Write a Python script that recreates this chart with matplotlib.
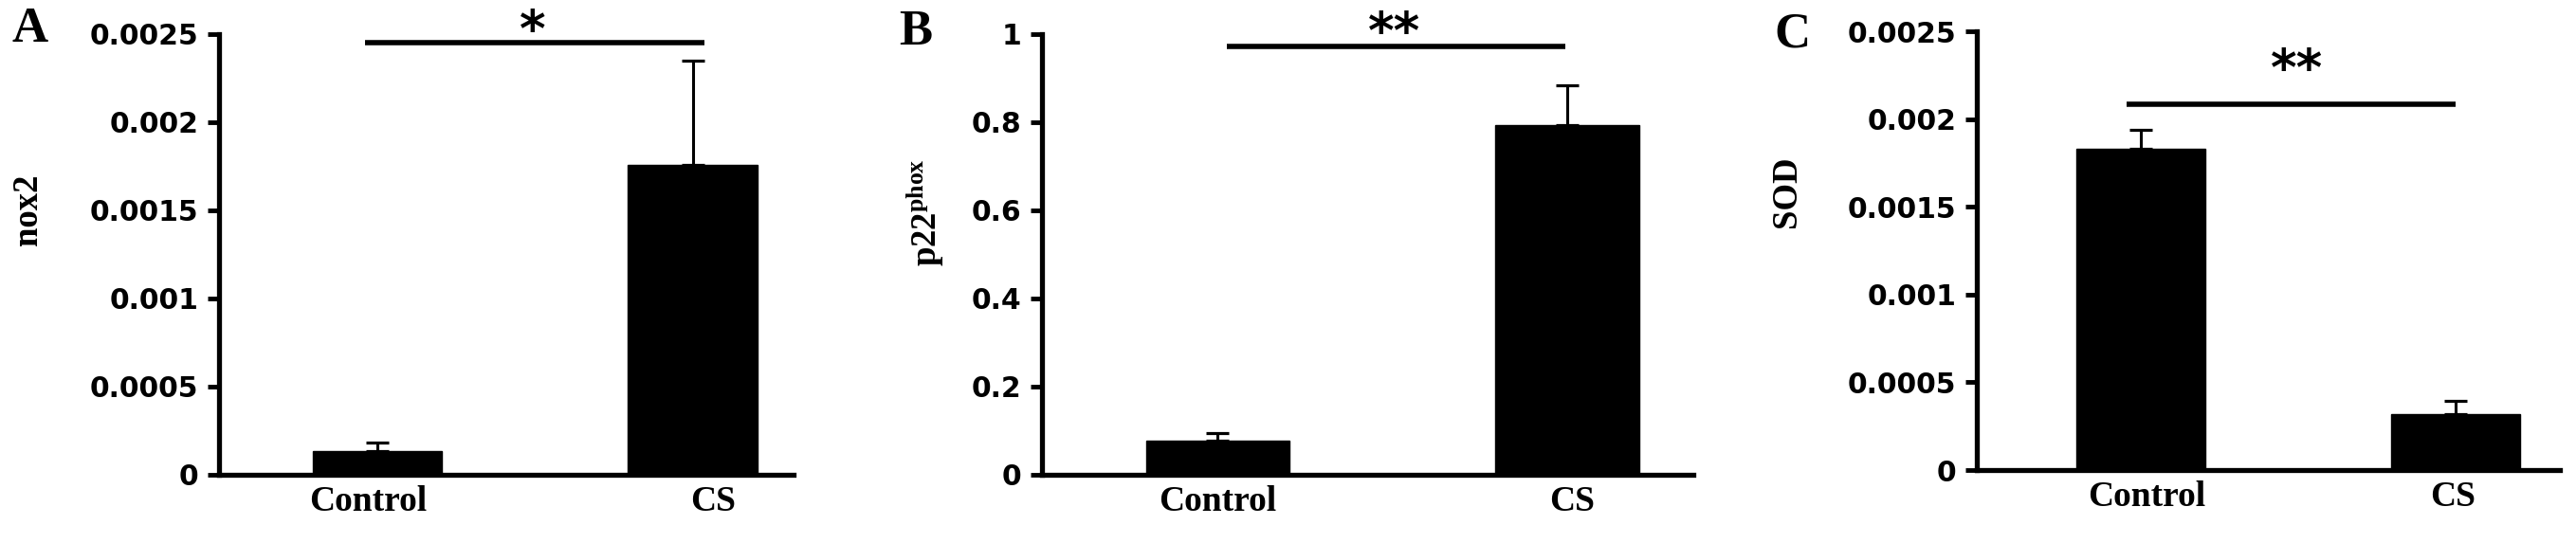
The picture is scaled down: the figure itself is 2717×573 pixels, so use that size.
import matplotlib
matplotlib.use("Agg")
import matplotlib.pyplot as plt
import numpy as np

plt.rcParams['mathtext.fontset'] = 'custom'
plt.rcParams['mathtext.rm'] = 'Liberation Serif:bold'
plt.rcParams['mathtext.bf'] = 'Liberation Serif:bold'
plt.rcParams['mathtext.it'] = 'Liberation Serif:bold'

categories = ["Control", "CS"]

nox2_mean = [0.000135, 0.001757]
nox2_err = [0.000045, 0.00059]
p22_mean = [0.077, 0.793]
p22_err = [0.018, 0.09]
sod_mean = [0.00183, 0.000319]
sod_err = [0.00011, 0.000075]

nox2_ticks = [0, 0.0005, 0.001, 0.0015, 0.002, 0.0025]
nox2_ticklabels = ["0", "0.0005", "0.001", "0.0015", "0.002", "0.0025"]
p22_ticks = [0, 0.2, 0.4, 0.6, 0.8, 1.0]
p22_ticklabels = ["0", "0.2", "0.4", "0.6", "0.8", "1"]
sod_ticks = nox2_ticks
sod_ticklabels = nox2_ticklabels

nox2_sig = "*"
p22_sig = "**"
sod_sig = "**"

W, H = 2717, 573
fig = plt.figure(figsize=(W / 100, H / 100), dpi=100)


def px_axes(left, right, bottom, top):
    return fig.add_axes([left / W, (H - bottom) / H, (right - left) / W, (bottom - top) / H])


panels = [
    dict(box=(231, 837, 501, 35.6), xlim=(-0.502, 1.32), mean=nox2_mean, err=nox2_err,
         ticks=nox2_ticks, labels=nox2_ticklabels, ylim=(0, 0.0025), labelpos=[-0.03, 1.065],
         sig=(-0.039, 1.038, 0.00245, nox2_sig), sigtext=(0.493, 0.00243),
         ylabel="nox2", ylabel_xy=(29, 221), letter="A", letter_xy=(32, 31)),
    dict(box=(1099, 1786, 501, 35.6), xlim=(-0.503, 1.361), mean=p22_mean, err=p22_err,
         ticks=p22_ticks, labels=p22_ticklabels, ylim=(0, 1.0), labelpos=[0.0, 1.013],
         sig=(0.026, 0.995, 0.972, p22_sig), sigtext=(0.506, 0.967),
         ylabel=r"$\mathbf{p22^{phox}}$", ylabel_xy=(976, 224), letter="B", letter_xy=(966, 34)),
    dict(box=(2085, 2700, 496, 33), xlim=(-0.521, 1.331), mean=sod_mean, err=sod_err,
         ticks=sod_ticks, labels=sod_ticklabels, ylim=(0, 0.0025), labelpos=[0.02, 0.99],
         sig=(-0.045, 1.0, 0.002084, sod_sig), sigtext=(0.497, 0.00219),
         ylabel="SOD", ylabel_xy=(1884, 202), letter="C", letter_xy=(1890, 36)),
]

for p in panels:
    ax = px_axes(*p["box"])
    x = np.arange(len(categories))
    ax.errorbar(x, p["mean"], yerr=[np.zeros(len(x)), p["err"]], fmt='none', ecolor='black',
                elinewidth=2.2, capsize=8.3, capthick=2.3, zorder=1, clip_on=False)
    ax.bar(x, p["mean"], width=0.41, color='black', edgecolor='black', zorder=2)
    ax.set_xlim(*p["xlim"])
    ax.set_ylim(*p["ylim"])
    ax.set_yticks(p["ticks"])
    ax.set_yticklabels(p["labels"], fontfamily='DejaVu Sans', fontweight='bold', fontsize=21.5)
    ax.set_xticks(p["labelpos"])
    ax.set_xticklabels(categories, fontfamily='Liberation Serif', fontweight='bold', fontsize=27)
    ax.tick_params(axis='x', length=0, pad=8)
    ax.tick_params(axis='y', length=8.6, width=3.5, pad=7, direction='out')
    for s in ['top', 'right']:
        ax.spines[s].set_visible(False)
    for s in ['left', 'bottom']:
        ax.spines[s].set_linewidth(3.8)
    ax.patch.set_alpha(0)
    x0, x1, ys, star = p["sig"]
    ax.plot([x0, x1], [ys, ys], color='black', lw=4, solid_capstyle='butt', clip_on=False)
    sx, sy = p["sigtext"]
    ax.text(sx, sy, star, ha='center', va='baseline', fontfamily='DejaVu Sans',
            fontweight='bold', fontsize=38, clip_on=False)
    lx, ly = p["ylabel_xy"]
    fig.text(lx / W, (H - ly) / H, p["ylabel"], rotation=90, ha='center', va='center',
             fontfamily='Liberation Serif', fontweight='bold', fontsize=26.5)
    cx, cy = p["letter_xy"]
    fig.text(cx / W, (H - cy) / H, p["letter"], ha='center', va='center',
             fontfamily='Liberation Serif', fontweight='bold', fontsize=38)

fig.savefig("out.png", dpi=100, facecolor='white')
